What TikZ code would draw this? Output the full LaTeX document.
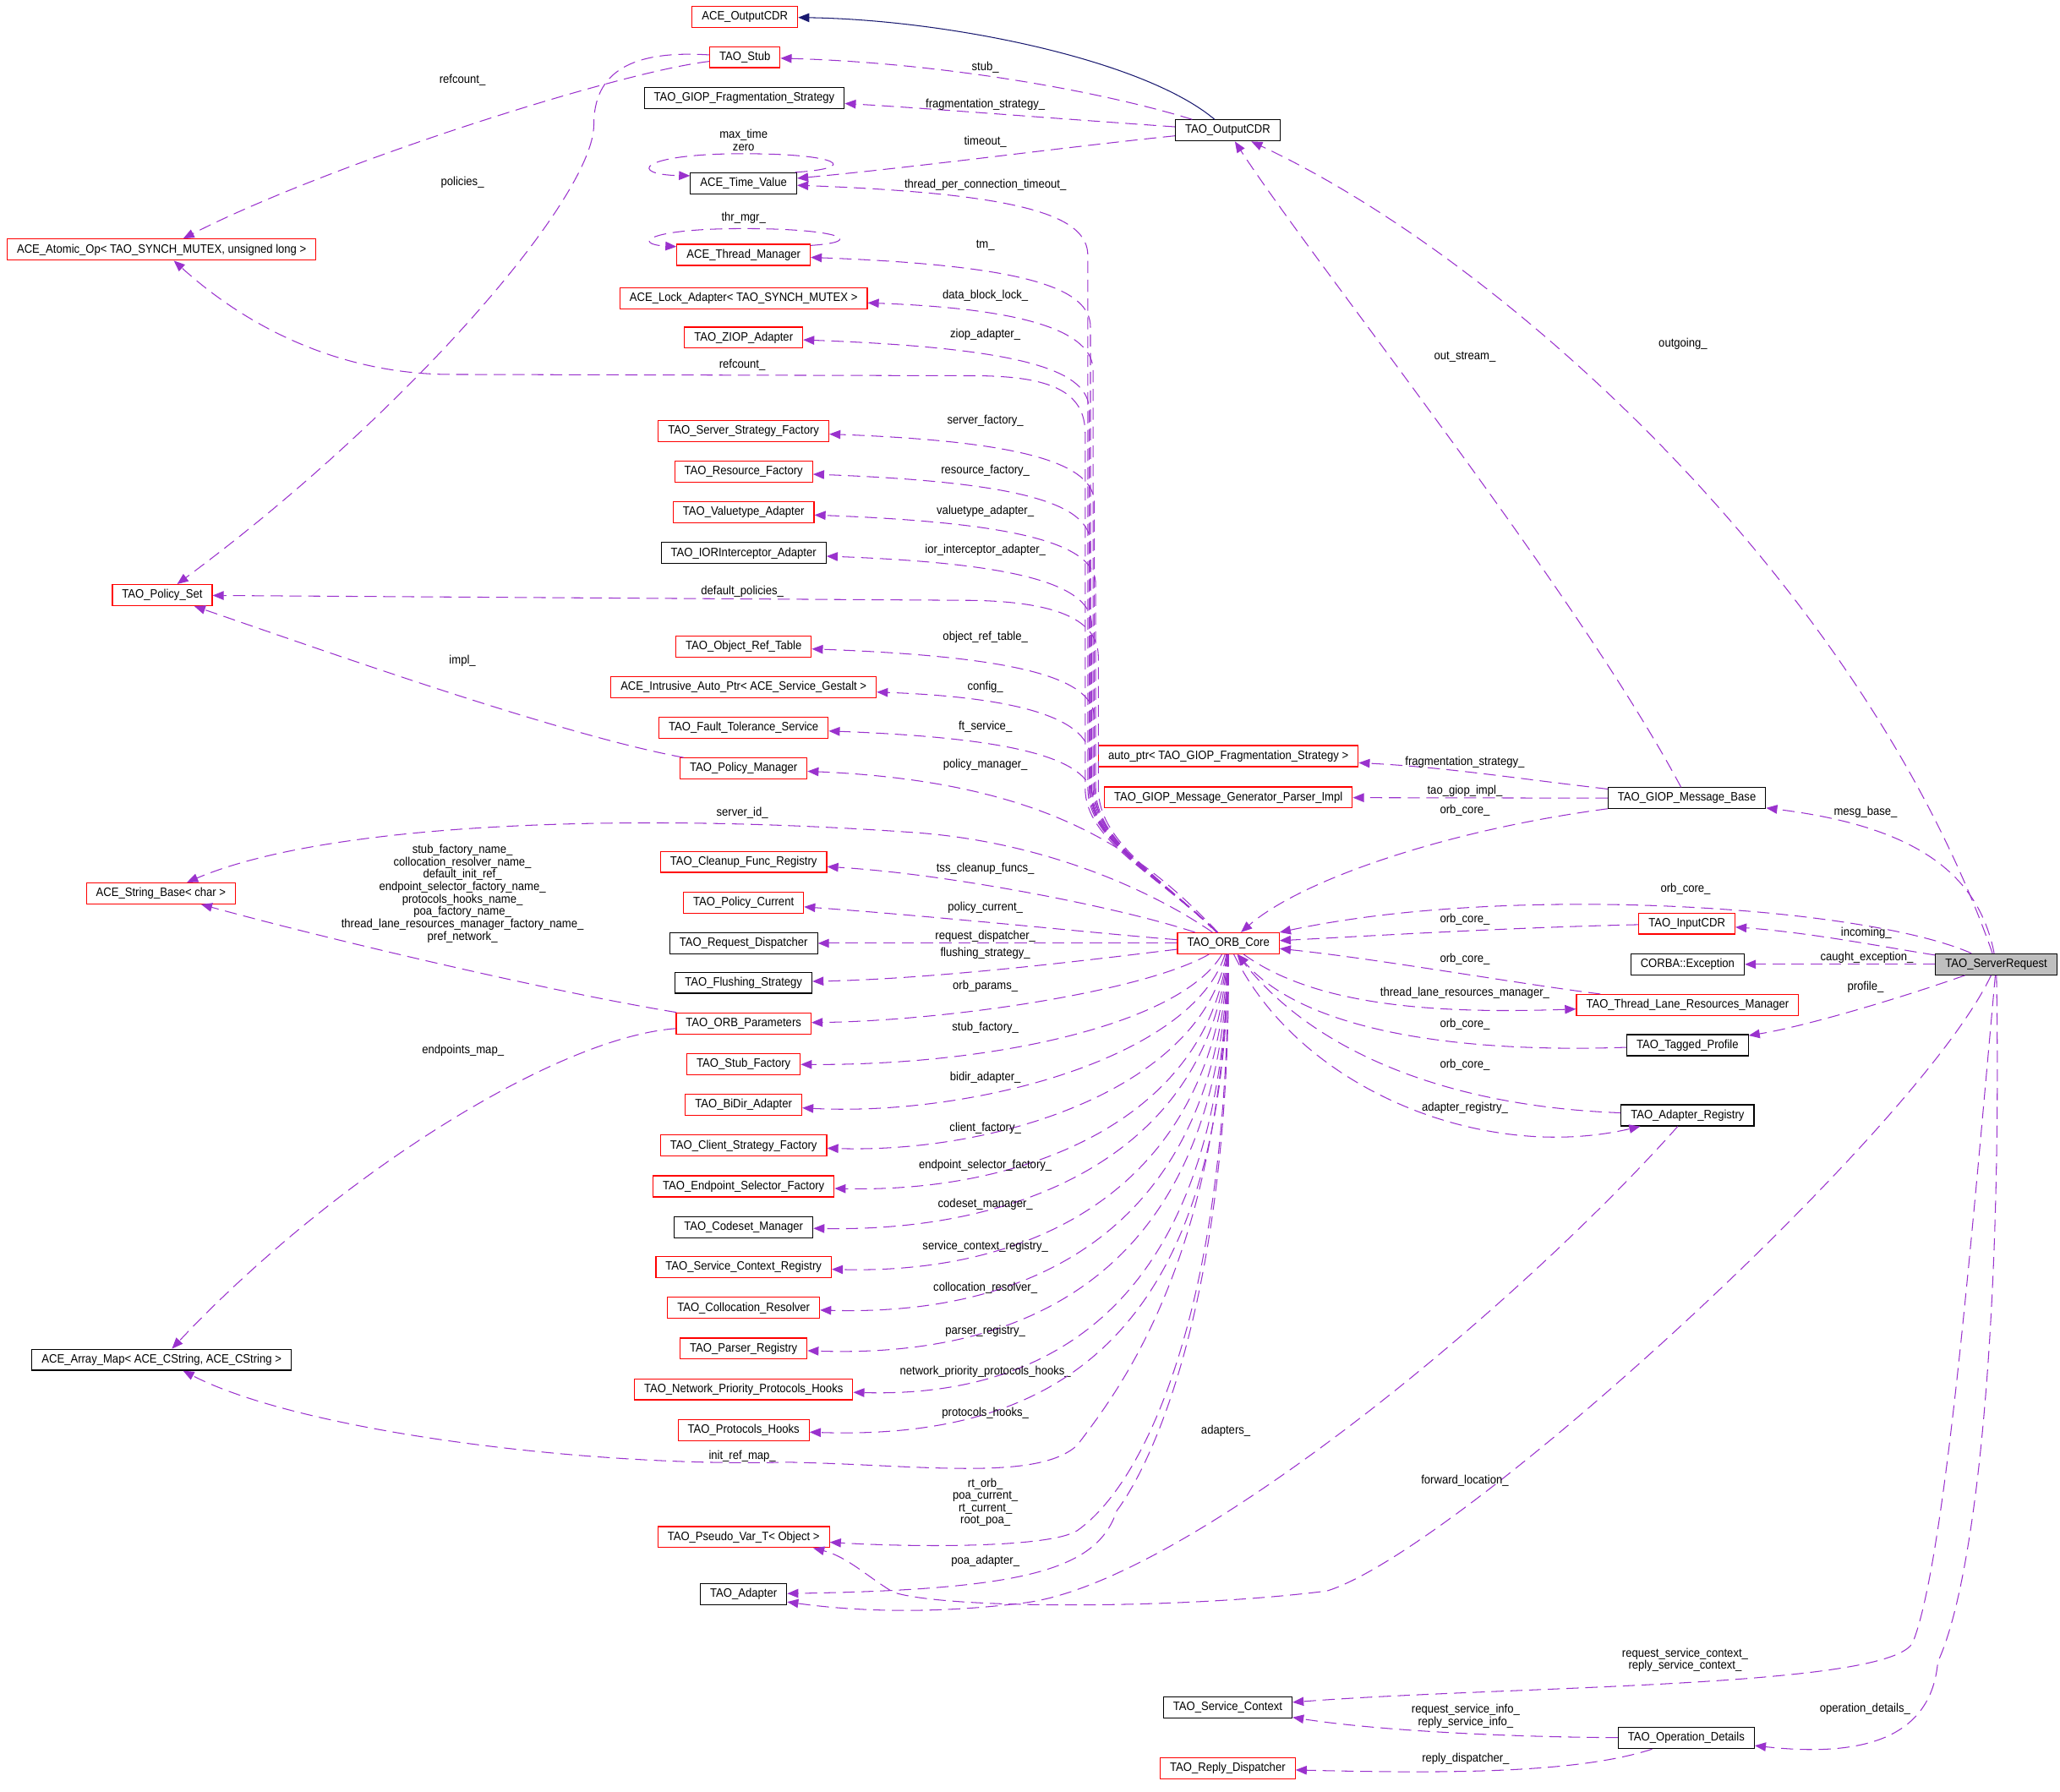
\documentclass[tikz,border=0pt]{standalone}
\usepackage{fontspec}
\setmainfont{Liberation Sans}[FakeStretch=0.91]
\usepackage{xcolor}
\usepackage{tikz}
\usetikzlibrary{arrows.meta}
\definecolor{edgepurple}{RGB}{154,50,205}
\definecolor{basenavy}{RGB}{25,25,112}
\definecolor{rootgray}{RGB}{191,191,191}

\begin{document}
\begin{tikzpicture}[
    x=0.0418cm, y=-0.0418cm,
    cls/.style={rectangle, draw=black, line width=0.9pt, fill=white, minimum height=0.67cm, inner xsep=0.31cm, inner ysep=0pt, font=\fontsize{11}{11.2}\selectfont},
    redcls/.style={cls, draw=red},
    rootcls/.style={cls, fill=rootgray},
    member/.style={draw=edgepurple, line width=0.8pt, dash pattern=on 11pt off 6pt, -{Triangle[length=10pt, width=8pt]}},
    inherit/.style={draw=basenavy, line width=0.8pt, -{Triangle[length=10pt, width=8pt]}},
    lbl/.style={font=\fontsize{11}{11.2}\selectfont, text=black, inner sep=0pt, align=center}
]
    \useasboundingbox (0,0) rectangle (1568,1364);

    \node[redcls] (acecdr) at (567,12.7) {ACE\_OutputCDR};
    \node[redcls] (stub) at (567,43.5) {TAO\_Stub};
    \node[cls] (fragstrat) at (566.5,74.5) {TAO\_GIOP\_Fragmentation\_Strategy};
    \node[cls] (timeval) at (566,139.5) {ACE\_Time\_Value};
    \node[redcls] (thrmgr) at (566,194) {ACE\_Thread\_Manager};
    \node[redcls] (lockad) at (566,227) {ACE\_Lock\_Adapter< TAO\_SYNCH\_MUTEX >};
    \node[redcls] (ziop) at (566,257) {TAO\_ZIOP\_Adapter};
    \node[redcls] (serverfac) at (566,328) {TAO\_Server\_Strategy\_Factory};
    \node[redcls] (resfac) at (566,359) {TAO\_Resource\_Factory};
    \node[redcls] (valuetype) at (566,390) {TAO\_Valuetype\_Adapter};
    \node[cls] (iorint) at (566,421) {TAO\_IORInterceptor\_Adapter};
    \node[redcls] (objref) at (566,492) {TAO\_Object\_Ref\_Table};
    \node[redcls] (intrusive) at (566,523) {ACE\_Intrusive\_Auto\_Ptr< ACE\_Service\_Gestalt >};
    \node[redcls] (faulttol) at (566,554) {TAO\_Fault\_Tolerance\_Service};
    \node[redcls] (policymgr) at (566,585) {TAO\_Policy\_Manager};
    \node[redcls] (cleanup) at (566,656) {TAO\_Cleanup\_Func\_Registry};
    \node[redcls] (policycur) at (566,687) {TAO\_Policy\_Current};
    \node[cls] (reqdisp) at (566,718) {TAO\_Request\_Dispatcher};
    \node[cls] (flushing) at (566,748) {TAO\_Flushing\_Strategy};
    \node[redcls] (orbparams) at (566,779) {TAO\_ORB\_Parameters};
    \node[redcls] (stubfac) at (566,810) {TAO\_Stub\_Factory};
    \node[redcls] (bidir) at (566,841) {TAO\_BiDir\_Adapter};
    \node[redcls] (clientfac) at (566,872) {TAO\_Client\_Strategy\_Factory};
    \node[redcls] (endpointsel) at (566,903) {TAO\_Endpoint\_Selector\_Factory};
    \node[cls] (codeset) at (566,934) {TAO\_Codeset\_Manager};
    \node[redcls] (svcctxreg) at (566,964.5) {TAO\_Service\_Context\_Registry};
    \node[redcls] (colloc) at (566,995.5) {TAO\_Collocation\_Resolver};
    \node[redcls] (parser) at (566,1026.5) {TAO\_Parser\_Registry};
    \node[redcls] (netprio) at (566,1057.5) {TAO\_Network\_Priority\_Protocols\_Hooks};
    \node[redcls] (protohooks) at (566,1088.5) {TAO\_Protocols\_Hooks};
    \node[redcls] (pseudovar) at (566,1170) {TAO\_Pseudo\_Var\_T< Object >};
    \node[cls] (adapter) at (566,1213.5) {TAO\_Adapter};

    \node[redcls] (atomic) at (123,190) {ACE\_Atomic\_Op< TAO\_SYNCH\_MUTEX, unsigned long >};
    \node[redcls] (policyset) at (123.5,453) {TAO\_Policy\_Set};
    \node[redcls] (stringbase) at (122.5,680) {ACE\_String\_Base< char >};
    \node[cls] (arraymap) at (123,1035) {ACE\_Array\_Map< ACE\_CString, ACE\_CString >};

    \node[cls] (outcdr) at (934.5,99.3) {TAO\_OutputCDR};
    \node[redcls] (autoptr) at (935,575.5) {auto\_ptr< TAO\_GIOP\_Fragmentation\_Strategy >};
    \node[redcls] (genparser) at (935,607) {TAO\_GIOP\_Message\_Generator\_Parser\_Impl};
    \node[redcls] (orbcore) at (935,718) {TAO\_ORB\_Core};
    \node[cls] (giopbase) at (1284,607.6) {TAO\_GIOP\_Message\_Base};
    \node[redcls] (inputcdr) at (1284,703) {TAO\_InputCDR};
    \node[cls] (corbaexc) at (1284.5,734) {CORBA::Exception};
    \node[redcls] (threadlane) at (1284.5,765) {TAO\_Thread\_Lane\_Resources\_Manager};
    \node[cls] (tagged) at (1284.5,795.6) {TAO\_Tagged\_Profile};
    \node[cls] (adapterreg) at (1284.5,849) {TAO\_Adapter\_Registry};
    \node[rootcls] (serverreq) at (1519.5,734) {TAO\_ServerRequest};
    \node[cls] (svcctx) at (934.5,1299.5) {TAO\_Service\_Context};
    \node[redcls] (replydisp) at (934.5,1346) {TAO\_Reply\_Dispatcher};
    \node[cls] (opdetails) at (1283.5,1323) {TAO\_Operation\_Details};

    \draw[inherit] (outcdr) .. controls (870,45) and (720,15) .. (acecdr);
    \draw[member] (outcdr) .. controls (840,70) and (720,48) .. (stub) node[lbl] at (750,51.5) {stub\_};
    \draw[member] (outcdr) .. controls (800,90) and (700,82) .. (fragstrat) node[lbl] at (750,79.4) {fragmentation\_strategy\_};
    \draw[member] (outcdr) .. controls (810,112) and (700,127) .. (timeval) node[lbl] at (750,108) {timeout\_};
    \draw[member] (timeval.12) .. controls (655,128) and (640,117) .. (566,117) .. controls (485,117) and (478,133) .. (timeval.172) node[lbl] at (566,106.6) {max\_time\\zero};
    \draw[member] (thrmgr.8) .. controls (660,184) and (640,174) .. (566,174) .. controls (490,174) and (482,186) .. (thrmgr.173) node[lbl] at (566,166) {thr\_mgr\_};

    \draw[member] (stub) .. controls (470,55) and (250,125) .. (atomic) node[lbl] at (352,61) {refcount\_};
    \draw[member] (stub) .. controls (480,38) and (452,55) .. (452,95) .. controls (452,150) and (310,315) .. (policyset) node[lbl] at (352,139) {policies\_};
    \draw[member] (policymgr) .. controls (430,560) and (260,500) .. (policyset) node[lbl] at (352,503) {impl\_};
    \draw[member] (orbparams) .. controls (420,755) and (250,715) .. (stringbase) node[lbl] at (352,680.2) {stub\_factory\_name\_\\collocation\_resolver\_name\_\\default\_init\_ref\_\\endpoint\_selector\_factory\_name\_\\protocols\_hooks\_name\_\\poa\_factory\_name\_\\thread\_lane\_resources\_manager\_factory\_name\_\\pref\_network\_};
    \draw[member] (orbparams) .. controls (420,790) and (250,900) .. (arraymap) node[lbl] at (352.4,799.7) {endpoints\_map\_};

    \draw[member] (orbcore) .. controls (880,665) and (828,640) .. (828,600) -- (828,194.5) .. controls (828,164.5) and (780,147.5) .. (timeval) node[lbl] at (750,141) {thread\_per\_connection\_timeout\_};
    \draw[member] (orbcore) .. controls (880,665) and (830,640) .. (830,600) -- (830,249) .. controls (830,219) and (780,202) .. (thrmgr) node[lbl] at (750,187) {tm\_};
    \draw[member] (orbcore) .. controls (880,665) and (832,640) .. (832,600) -- (832,282) .. controls (832,252) and (780,235) .. (lockad) node[lbl] at (750,225.2) {data\_block\_lock\_};
    \draw[member] (orbcore) .. controls (880,665) and (829,640) .. (829,600) -- (829,312) .. controls (829,282) and (780,265) .. (ziop) node[lbl] at (750,254.6) {ziop\_adapter\_};
    \draw[member] (orbcore) .. controls (880,665) and (826,640) .. (826,600) -- (826,330) .. controls (826,298) and (800,286) .. (740,286) -- (340,285) .. controls (265,284) and (195,255) .. (atomic) node[lbl] at (565,278) {refcount\_};
    \draw[member] (orbcore) .. controls (880,665) and (833,640) .. (833,600) -- (833,383) .. controls (833,353) and (780,336) .. (serverfac) node[lbl] at (750,320.5) {server\_factory\_};
    \draw[member] (orbcore) .. controls (880,665) and (830,640) .. (830,600) -- (830,414) .. controls (830,384) and (780,367) .. (resfac) node[lbl] at (750,358) {resource\_factory\_};
    \draw[member] (orbcore) .. controls (880,665) and (834,640) .. (834,600) -- (834,445) .. controls (834,415) and (780,398) .. (valuetype) node[lbl] at (750,388.8) {valuetype\_adapter\_};
    \draw[member] (orbcore) .. controls (880,665) and (831,640) .. (831,600) -- (831,476) .. controls (831,446) and (780,429) .. (iorint) node[lbl] at (750,419) {ior\_interceptor\_adapter\_};
    \draw[member] (orbcore) .. controls (880,665) and (836,640) .. (836,600) -- (836,500) .. controls (836,470) and (800,458) .. (740,457) -- (policyset) node[lbl] at (565,450) {default\_policies\_};
    \draw[member] (orbcore) .. controls (880,665) and (833,640) .. (833,600) -- (833,547) .. controls (833,517) and (780,500) .. (objref) node[lbl] at (750,485) {object\_ref\_table\_};
    \draw[member] (orbcore) .. controls (880,665) and (830,640) .. (830,600) -- (830,578) .. controls (830,548) and (780,531) .. (intrusive) node[lbl] at (750,522.8) {config\_};
    \draw[member] (orbcore) .. controls (880,665) and (832,640) .. (832,609) .. controls (832,579) and (780,562) .. (faulttol) node[lbl] at (750,553) {ft\_service\_};
    \draw[member] (orbcore) .. controls (870,650) and (800,595) .. (policymgr) node[lbl] at (750,582) {policy\_manager\_};
    \draw[member] (orbcore) .. controls (880,680) and (800,642) .. (700,634) .. controls (480,618) and (250,626) .. (stringbase) node[lbl] at (565,619) {server\_id\_};
    \draw[member] (orbcore) .. controls (850,690) and (720,665) .. (cleanup) node[lbl] at (750,661.5) {tss\_cleanup\_funcs\_};
    \draw[member] (orbcore) .. controls (850,712) and (720,698) .. (policycur) node[lbl] at (750,691) {policy\_current\_};
    \draw[member] (orbcore) -- (reqdisp) node[lbl] at (750,712.5) {request\_dispatcher\_};
    \draw[member] (orbcore) .. controls (850,728) and (720,745) .. (flushing) node[lbl] at (750,725.8) {flushing\_strategy\_};
    \draw[member] (orbcore) .. controls (870,755) and (720,777) .. (orbparams) node[lbl] at (750,751) {orb\_params\_};
    \draw[member] (orbcore) .. controls (900,778) and (760,811) .. (stubfac) node[lbl] at (750,782.3) {stub\_factory\_};
    \draw[member] (orbcore) .. controls (908,805) and (740,850) .. (bidir) node[lbl] at (750,820) {bidir\_adapter\_};
    \draw[member] (orbcore) .. controls (915,828) and (760,878) .. (clientfac) node[lbl] at (750,858.8) {client\_factory\_};
    \draw[member] (orbcore) .. controls (918,852) and (780,908) .. (endpointsel) node[lbl] at (750,887) {endpoint\_selector\_factory\_};
    \draw[member] (orbcore) .. controls (920,876) and (780,938) .. (codeset) node[lbl] at (750,916.7) {codeset\_manager\_};
    \draw[member] (orbcore) .. controls (922,902) and (790,970) .. (svcctxreg) node[lbl] at (750,949) {service\_context\_registry\_};
    \draw[member] (orbcore) .. controls (925,932) and (790,1002) .. (colloc) node[lbl] at (750,980.5) {collocation\_resolver\_};
    \draw[member] (orbcore) .. controls (928,962) and (790,1034) .. (parser) node[lbl] at (750,1013) {parser\_registry\_};
    \draw[member] (orbcore) .. controls (930,992) and (800,1064) .. (netprio) node[lbl] at (750,1044) {network\_priority\_protocols\_hooks\_};
    \draw[member] (orbcore) .. controls (932,1022) and (800,1096) .. (protohooks) node[lbl] at (750,1075.6) {protocols\_hooks\_};
    \draw[member] (orbcore) .. controls (930,960) and (850,1060) .. (820,1100) .. controls (790,1128) and (700,1115) .. (600,1113) .. controls (450,1117) and (230,1090) .. (arraymap) node[lbl] at (565,1108.5) {init\_ref\_map\_};
    \draw[member] (orbcore) .. controls (935,1000) and (870,1130) .. (820,1165) .. controls (800,1178) and (700,1178) .. (pseudovar) node[lbl] at (750,1143.5) {rt\_orb\_\\poa\_current\_\\rt\_current\_\\root\_poa\_};
    \draw[member] (orbcore) .. controls (937,980) and (880,1110) .. (850,1150) .. controls (835,1195) and (780,1210) .. (adapter) node[lbl] at (750,1188) {poa\_adapter\_};
    \draw[member] (orbcore) .. controls (1000,765) and (1090,772) .. (threadlane) node[lbl] at (1115,756) {thread\_lane\_resources\_manager\_};
    \draw[member] (orbcore) .. controls (990,830) and (1130,885) .. (adapterreg) node[lbl] at (1115,843.3) {adapter\_registry\_};

    \draw[member] (giopbase) .. controls (1150,592) and (1100,584) .. (autoptr) node[lbl] at (1115,580) {fragmentation\_strategy\_};
    \draw[member] (giopbase) -- (genparser) node[lbl] at (1115,602) {tao\_giop\_impl\_};
    \draw[member] (giopbase) .. controls (1100,632) and (990,670) .. (orbcore) node[lbl] at (1115,617) {orb\_core\_};
    \draw[member] (giopbase) .. controls (1200,450) and (1000,200) .. (outcdr) node[lbl] at (1115,272) {out\_stream\_};
    \draw[member] (inputcdr) .. controls (1150,706) and (1050,712) .. (orbcore) node[lbl] at (1115,700) {orb\_core\_};
    \draw[member] (threadlane) .. controls (1150,748) and (1050,730) .. (orbcore) node[lbl] at (1115,730) {orb\_core\_};
    \draw[member] (tagged) .. controls (1100,802) and (990,782) .. (orbcore) node[lbl] at (1115,779.5) {orb\_core\_};
    \draw[member] (adapterreg) .. controls (1100,842) and (1000,800) .. (orbcore) node[lbl] at (1115,810.6) {orb\_core\_};
    \draw[member] (adapterreg) .. controls (1150,1000) and (900,1205) .. (780,1220) .. controls (700,1230) and (640,1225) .. (adapter.-10) node[lbl] at (933,1089) {adapters\_};

    \draw[member] (serverreq) .. controls (1420,450) and (1150,200) .. (outcdr) node[lbl] at (1281,262) {outgoing\_};
    \draw[member] (serverreq) .. controls (1505,660) and (1450,628) .. (giopbase) node[lbl] at (1420,618) {mesg\_base\_};
    \draw[member] (serverreq) .. controls (1420,690) and (1150,672) .. (orbcore) node[lbl] at (1283,676.7) {orb\_core\_};
    \draw[member] (serverreq) .. controls (1440,722) and (1380,710) .. (inputcdr) node[lbl] at (1420.5,710) {incoming\_};
    \draw[member] (serverreq) -- (corbaexc) node[lbl] at (1421,728.6) {caught\_exception\_};
    \draw[member] (serverreq) .. controls (1440,762) and (1370,782) .. (tagged) node[lbl] at (1420,751.6) {profile\_};
    \draw[member] (serverreq) .. controls (1460,860) and (1110,1180) .. (1010,1211) .. controls (900,1225) and (720,1225) .. (680,1212) .. controls (660,1200) and (645,1185) .. (pseudovar.-9) node[lbl] at (1115,1127) {forward\_location\_};
    \draw[member] (serverreq) .. controls (1500,950) and (1480,1190) .. (1456,1250) .. controls (1440,1285) and (1150,1283) .. (svcctx) node[lbl] at (1282.6,1263.6) {request\_service\_context\_\\reply\_service\_context\_};
    \draw[member] (serverreq) .. controls (1524,1000) and (1505,1200) .. (1475,1265) .. controls (1470,1322) and (1420,1338) .. (opdetails) node[lbl] at (1419.6,1301) {operation\_details\_};
    \draw[member] (opdetails) .. controls (1130,1322) and (1040,1316) .. (svcctx) node[lbl] at (1115.6,1306.5) {request\_service\_info\_\\reply\_service\_info\_};
    \draw[member] (opdetails) .. controls (1200,1350) and (1100,1350) .. (replydisp) node[lbl] at (1115.6,1339) {reply\_dispatcher\_};
\end{tikzpicture}
\end{document}
